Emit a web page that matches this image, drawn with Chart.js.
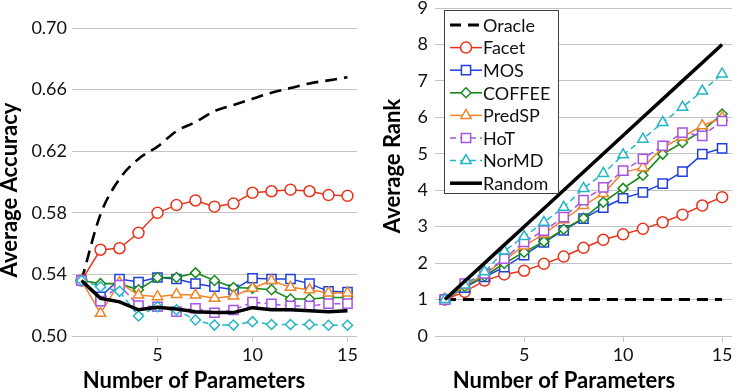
<!DOCTYPE html>
<html><head><meta charset="utf-8">
<script src="https://cdn.jsdelivr.net/npm/chart.js@4.4.1/dist/chart.umd.min.js"></script>
<style>
body{margin:0;background:#fff;width:740px;height:391px;overflow:hidden;position:relative}
canvas{position:absolute;top:0}
</style>
</head><body>
<canvas id="c1" width="370" height="391" style="left:0"></canvas>
<canvas id="c2" width="370" height="391" style="left:370px"></canvas>
<script>
// ---- data ----
const params = [1,2,3,4,5,6,7,8,9,10,11,12,13,14,15];
const xTickValues = [5,10,15];
const accTicks = [0.50,0.54,0.58,0.62,0.66,0.70];
const rankTicks = [0,1,2,3,4,5,6,7,8,9];

const accOracle = [0.536,0.579,0.602,0.615,0.623,0.633,0.639,0.646,0.650,0.654,0.658,0.661,0.664,0.666,0.668];
const accFacet  = [0.536,0.556,0.557,0.567,0.580,0.585,0.588,0.584,0.586,0.593,0.594,0.595,0.594,0.5915,0.591];
const accMOS    = [0.536,0.5255,0.537,0.535,0.538,0.537,0.534,0.532,0.530,0.5375,0.537,0.537,0.534,0.529,0.5285];
const accCOFFEE = [0.536,0.534,0.534,0.530,0.538,0.538,0.541,0.536,0.5315,0.531,0.530,0.524,0.524,0.525,0.525];
const accPredSP = [0.536,0.5147,0.5346,0.5266,0.5255,0.527,0.5266,0.5245,0.526,0.531,0.536,0.5316,0.530,0.528,0.528];
const accHoT    = [0.536,0.5227,0.533,0.5197,0.519,0.5158,0.518,0.5151,0.5169,0.522,0.5208,0.5195,0.5195,0.521,0.521];
const accNorMD  = [0.536,0.532,0.529,0.513,0.519,0.517,0.5104,0.5071,0.5071,0.5093,0.5075,0.5075,0.5075,0.507,0.507];
const accRandom = [0.536,0.5245,0.5222,0.517,0.5186,0.5175,0.5158,0.5152,0.5152,0.5184,0.517,0.517,0.5164,0.5158,0.5164];

const rankOracle = [1,1,1,1,1,1,1,1,1,1,1,1,1,1,1];
const rankFacet  = [1,1.21,1.52,1.69,1.79,1.98,2.18,2.42,2.64,2.79,2.94,3.12,3.33,3.58,3.81];
const rankMOS    = [1,1.33,1.62,1.89,2.22,2.57,2.90,3.22,3.52,3.78,3.94,4.18,4.51,4.99,5.15];
const rankCOFFEE = [1,1.35,1.64,1.99,2.30,2.59,2.93,3.23,3.67,4.05,4.41,4.99,5.31,5.63,6.09];
const rankPredSP = [1,1.38,1.70,2.08,2.47,2.80,3.19,3.58,3.91,4.49,4.62,5.17,5.46,5.77,5.99];
const rankHoT    = [1,1.44,1.72,2.12,2.58,2.89,3.26,3.73,4.08,4.54,4.86,5.22,5.58,5.49,5.90];
const rankNorMD  = [1,1.40,1.76,2.33,2.73,3.12,3.53,4.05,4.46,4.97,5.40,5.86,6.28,6.72,7.19];
const rankRandom = [1,1.5,2,2.5,3,3.5,4,4.5,5,5.5,6,6.5,7,7.5,8];

const seriesNames = ['Oracle','Facet','MOS','COFFEE','PredSP','HoT','NorMD','Random'];

// ---- styles ----
const FONT = 'Lato';
const st = {
  Oracle: {c:'#000000', w:2.6, dash:[12,7], ps:false, r:0},
  Facet:  {c:'#e8341c', w:1.5, dash:[], ps:'circle', r:5.5},
  MOS:    {c:'#1f3fe0', w:1.5, dash:[], ps:'rect', r:6.5},
  COFFEE: {c:'#1a8a1a', w:1.6, dash:[], ps:'rectRot', r:5},
  PredSP: {c:'#f08428', w:1.5, dash:[], ps:'triangle', r:6},
  HoT:    {c:'#a653e6', w:1.5, dash:[6,4], ps:'rect', r:6.5},
  NorMD:  {c:'#22b6c6', w:1.5, dash:[6,4], ps:'triangle', r:6},
  Random: {c:'#000000', w:3.5, dash:[], ps:false, r:0}
};

function mkSets(arrs, overrides){
  return seriesNames.map((n,i)=>{
    const s = Object.assign({}, st[n], (overrides||{})[n]||{});
    return {
      label:n,
      data: params.map((x,k)=>({x:x, y:arrs[i][k]})),
      borderColor:s.c, borderWidth:s.w, borderDash:s.dash,
      pointStyle:s.ps || 'circle', pointRadius:s.r, pointHoverRadius:s.r,
      pointBorderColor:s.c, pointBackgroundColor:'#ffffff', pointBorderWidth:1.5,
      fill:false, tension:0, cubicInterpolationMode: s.mono ? 'monotone' : 'default',
      order: seriesNames.length - i
    };
  });
}

const titlesPlugin = {
  id:'titles',
  afterDraw(chart, args, o){
    const ctx = chart.ctx;
    ctx.save();
    ctx.fillStyle = '#000';
    ctx.font = 'bold 22px ' + FONT;
    ctx.textAlign = 'center';
    ctx.textBaseline = 'middle';
    ctx.fillText(o.xText, o.xX, o.xY);
    ctx.translate(o.yX, o.yY);
    ctx.rotate(-Math.PI/2);
    ctx.fillText(o.yText, 0, 0);
    ctx.restore();
  }
};

const legendPlugin = {
  id:'boxLegend',
  afterDraw(chart, args, o){
    if(!o || !o.show) return;
    const ctx = chart.ctx;
    ctx.save();
    ctx.fillStyle = '#fff';
    ctx.fillRect(o.x, o.y, o.w, o.h);
    ctx.strokeStyle = '#404040';
    ctx.lineWidth = 1;
    ctx.strokeRect(o.x+0.5, o.y+0.5, o.w, o.h);
    chart.data.datasets.forEach((ds,i)=>{
      const yy = o.y + o.first + i*o.step;
      ctx.save();
      ctx.strokeStyle = ds.borderColor;
      ctx.lineWidth = ds.borderWidth;
      ctx.setLineDash(ds.borderDash || []);
      ctx.beginPath();
      ctx.moveTo(o.x + o.lx0, yy);
      ctx.lineTo(o.x + o.lx1, yy);
      ctx.stroke();
      ctx.setLineDash([]);
      if (ds.pointRadius > 0) {
        ctx.lineWidth = ds.pointBorderWidth;
        ctx.strokeStyle = ds.pointBorderColor;
        ctx.fillStyle = ds.pointBackgroundColor;
        Chart.helpers.drawPoint(ctx, {pointStyle: ds.pointStyle, radius: ds.pointRadius, borderWidth: ds.pointBorderWidth, rotation:0}, o.x + (o.lx0+o.lx1)/2, yy);
      }
      ctx.restore();
      ctx.fillStyle = '#111';
      ctx.font = '18px ' + FONT;
      ctx.textAlign = 'left';
      ctx.textBaseline = 'middle';
      ctx.fillText(ds.label, o.x + o.tx, yy + 1);
    });
    ctx.restore();
  }
};

function mkOptions(cfg){
  return {
    responsive:false, animation:false, devicePixelRatio:1,
    layout:{padding:cfg.pad},
    plugins:{legend:{display:false}, tooltip:{enabled:false},
      titles:cfg.titles, boxLegend:cfg.legend||{show:false}},
    scales:{
      x:{type:'linear', min:0.5, max:15.5,
        afterBuildTicks(s){ s.ticks = xTickValues.map(v=>({value:v})); },
        afterFit(s){ s.height = cfg.xH; s.paddingLeft = 0; s.paddingRight = 0; },
        grid:{drawOnChartArea:false, drawTicks:true, tickLength:6, color:'#c4c4c4'},
        border:{display:false},
        ticks:{font:{family:FONT, size:18}, color:'#111', padding:2, maxRotation:0, autoSkip:false}
      },
      y:{type:'linear', min:cfg.yMin, max:cfg.yMax,
        afterBuildTicks(s){ s.ticks = cfg.yTicks.map(v=>({value:v})); },
        afterFit(s){ s.width = cfg.yW; s.paddingTop = 0; s.paddingBottom = 0; },
        grid:{drawTicks:false, color:'#c4c4c4', lineWidth:1},
        border:{display:false},
        ticks:{font:{family:FONT, size:18}, color:'#111', padding:cfg.yPad, autoSkip:false,
          callback:cfg.yFmt}
      }
    }
  };
}

new Chart(document.getElementById('c1'), {
  type:'line',
  data:{datasets: mkSets([accOracle,accFacet,accMOS,accCOFFEE,accPredSP,accHoT,accNorMD,accRandom],
    {Oracle:{mono:true}, NorMD:{ps:'rectRot', r:5}})},
  options: mkOptions({
    pad:{top:28, right:13, bottom:0, left:0}, xH:55, yW:72, yPad:5,
    yMin:0.50, yMax:0.70, yTicks:accTicks, yFmt:v=>v.toFixed(2),
    titles:{xText:'Number of Parameters', xX:194, xY:381, yText:'Average Accuracy', yX:10, yY:190}
  }),
  plugins:[titlesPlugin, legendPlugin]
});

new Chart(document.getElementById('c2'), {
  type:'line',
  data:{datasets: mkSets([rankOracle,rankFacet,rankMOS,rankCOFFEE,rankPredSP,rankHoT,rankNorMD,rankRandom],
    {Oracle:{w:3, dash:[11,7]}})},
  options: mkOptions({
    pad:{top:7, right:0, bottom:0, left:0}, xH:55, yW:65, yPad:7,
    yMin:0, yMax:9, yTicks:rankTicks, yFmt:v=>String(v),
    titles:{xText:'Number of Parameters', xX:194, xY:381, yText:'Average Rank', yX:23, yY:166},
    legend:{show:true, x:74, y:10, w:114, h:183, first:15, step:22.6, lx0:6, lx1:38, tx:39}
  }),
  plugins:[titlesPlugin, legendPlugin]
});
</script>
</body></html>
